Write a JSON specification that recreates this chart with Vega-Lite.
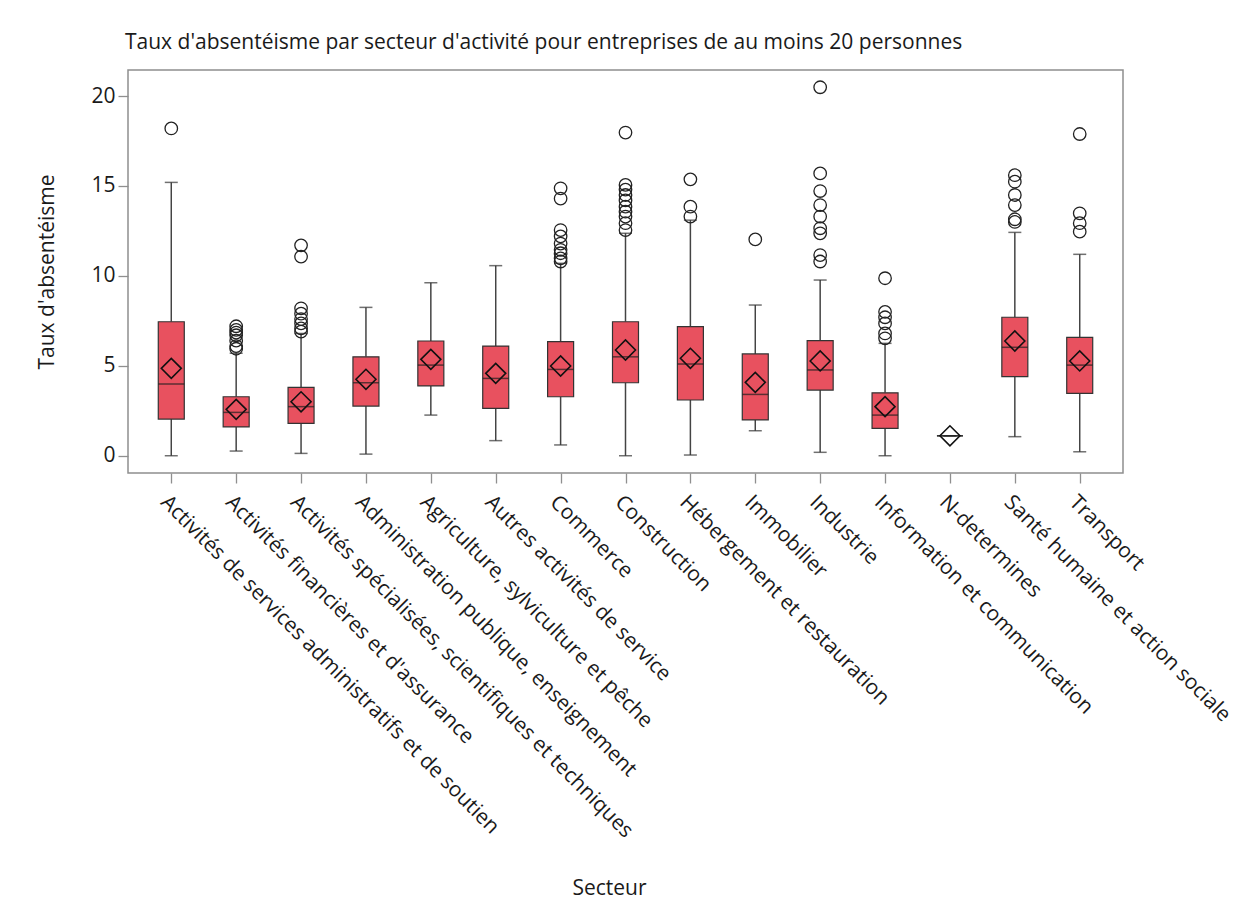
{
  "$schema": "https://vega.github.io/schema/vega-lite/v6.json",
  "width": 995,
  "height": 403,
  "autosize": {"type": "none"},
  "padding": {"left": 128, "top": 70, "right": 114, "bottom": 431},
  "background": "white",
  "config": {
    "font": "Open Sans",
    "view": {"stroke": "#8f8f8f", "strokeWidth": 1.5},
    "axis": {
      "domain": false,
      "grid": false,
      "tickColor": "#8f8f8f",
      "tickWidth": 1.3,
      "tickSize": 10,
      "labelColor": "#1a1a1a",
      "labelFont": "Open Sans",
      "labelFontSize": 21,
      "titleColor": "#1a1a1a",
      "titleFont": "Open Sans",
      "titleFontSize": 21,
      "titleFontWeight": "normal"
    }
  },
  "title": {
    "text": "Taux d'absentéisme par secteur d'activité pour entreprises de au moins 20 personnes",
    "anchor": "start",
    "frame": "group",
    "baseline": "alphabetic",
    "offset": 0,
    "dx": -3,
    "font": "Open Sans",
    "fontSize": 21,
    "fontWeight": "normal",
    "color": "#1a1a1a"
  },
  "datasets": {
    "boites": [
      {"secteur": "Activités de services administratifs et de soutien", "bas": 0.0, "q1": 2.04, "mediane": 3.99, "q3": 7.45, "haut": 15.2, "moyenne": 4.86},
      {"secteur": "Activités financières et d'assurance", "bas": 0.26, "q1": 1.6, "mediane": 2.41, "q3": 3.28, "haut": 5.7, "moyenne": 2.58},
      {"secteur": "Activités spécialisées, scientifiques et techniques", "bas": 0.13, "q1": 1.8, "mediane": 2.73, "q3": 3.8, "haut": 6.8, "moyenne": 3.0},
      {"secteur": "Administration publique, enseignement", "bas": 0.09, "q1": 2.76, "mediane": 4.06, "q3": 5.5, "haut": 8.25, "moyenne": 4.25},
      {"secteur": "Agriculture, sylviculture et pêche", "bas": 2.26, "q1": 3.88, "mediane": 5.04, "q3": 6.38, "haut": 9.62, "moyenne": 5.36},
      {"secteur": "Autres activités de service", "bas": 0.84, "q1": 2.63, "mediane": 4.3, "q3": 6.1, "haut": 10.57, "moyenne": 4.58},
      {"secteur": "Commerce", "bas": 0.6, "q1": 3.28, "mediane": 4.8, "q3": 6.34, "haut": 10.7, "moyenne": 4.99},
      {"secteur": "Construction", "bas": 0.0, "q1": 4.06, "mediane": 5.5, "q3": 7.45, "haut": 12.37, "moyenne": 5.88},
      {"secteur": "Hébergement et restauration", "bas": 0.04, "q1": 3.1, "mediane": 5.1, "q3": 7.18, "haut": 13.1, "moyenne": 5.42},
      {"secteur": "Immobilier", "bas": 1.39, "q1": 1.99, "mediane": 3.41, "q3": 5.66, "haut": 8.38, "moyenne": 4.08},
      {"secteur": "Industrie", "bas": 0.19, "q1": 3.65, "mediane": 4.77, "q3": 6.4, "haut": 9.77, "moyenne": 5.27},
      {"secteur": "Information et communication", "bas": 0.0, "q1": 1.52, "mediane": 2.26, "q3": 3.5, "haut": 6.25, "moyenne": 2.73},
      {"secteur": "N-determines", "bas": 1.11, "q1": 1.11, "mediane": 1.11, "q3": 1.11, "haut": 1.11, "moyenne": 1.11},
      {"secteur": "Santé humaine et action sociale", "bas": 1.06, "q1": 4.4, "mediane": 6.03, "q3": 7.7, "haut": 12.42, "moyenne": 6.38},
      {"secteur": "Transport", "bas": 0.22, "q1": 3.47, "mediane": 5.04, "q3": 6.58, "haut": 11.2, "moyenne": 5.27}
    ],
    "extremes": [
      {"secteur": "Activités de services administratifs et de soutien", "valeur": 18.2},
      {"secteur": "Activités financières et d'assurance", "valeur": 7.2},
      {"secteur": "Activités financières et d'assurance", "valeur": 7.0},
      {"secteur": "Activités financières et d'assurance", "valeur": 6.85},
      {"secteur": "Activités financières et d'assurance", "valeur": 6.7},
      {"secteur": "Activités financières et d'assurance", "valeur": 6.4},
      {"secteur": "Activités financières et d'assurance", "valeur": 6.1},
      {"secteur": "Activités financières et d'assurance", "valeur": 5.95},
      {"secteur": "Activités spécialisées, scientifiques et techniques", "valeur": 11.7},
      {"secteur": "Activités spécialisées, scientifiques et techniques", "valeur": 11.07},
      {"secteur": "Activités spécialisées, scientifiques et techniques", "valeur": 8.2},
      {"secteur": "Activités spécialisées, scientifiques et techniques", "valeur": 7.9},
      {"secteur": "Activités spécialisées, scientifiques et techniques", "valeur": 7.6},
      {"secteur": "Activités spécialisées, scientifiques et techniques", "valeur": 7.36},
      {"secteur": "Activités spécialisées, scientifiques et techniques", "valeur": 7.08},
      {"secteur": "Activités spécialisées, scientifiques et techniques", "valeur": 6.9},
      {"secteur": "Commerce", "valeur": 14.87},
      {"secteur": "Commerce", "valeur": 14.3},
      {"secteur": "Commerce", "valeur": 12.55},
      {"secteur": "Commerce", "valeur": 12.2},
      {"secteur": "Commerce", "valeur": 11.8},
      {"secteur": "Commerce", "valeur": 11.45},
      {"secteur": "Commerce", "valeur": 11.26},
      {"secteur": "Commerce", "valeur": 10.98},
      {"secteur": "Commerce", "valeur": 10.8},
      {"secteur": "Construction", "valeur": 17.97},
      {"secteur": "Construction", "valeur": 15.06},
      {"secteur": "Construction", "valeur": 14.8},
      {"secteur": "Construction", "valeur": 14.5},
      {"secteur": "Construction", "valeur": 14.2},
      {"secteur": "Construction", "valeur": 13.85},
      {"secteur": "Construction", "valeur": 13.57},
      {"secteur": "Construction", "valeur": 13.3},
      {"secteur": "Construction", "valeur": 12.93},
      {"secteur": "Construction", "valeur": 12.55},
      {"secteur": "Hébergement et restauration", "valeur": 15.37},
      {"secteur": "Hébergement et restauration", "valeur": 13.85},
      {"secteur": "Hébergement et restauration", "valeur": 13.3},
      {"secteur": "Immobilier", "valeur": 12.03},
      {"secteur": "Industrie", "valeur": 20.49},
      {"secteur": "Industrie", "valeur": 15.7},
      {"secteur": "Industrie", "valeur": 14.72},
      {"secteur": "Industrie", "valeur": 13.94},
      {"secteur": "Industrie", "valeur": 13.3},
      {"secteur": "Industrie", "valeur": 12.65},
      {"secteur": "Industrie", "valeur": 12.37},
      {"secteur": "Industrie", "valeur": 11.16},
      {"secteur": "Industrie", "valeur": 10.8},
      {"secteur": "Information et communication", "valeur": 9.87},
      {"secteur": "Information et communication", "valeur": 8.0},
      {"secteur": "Information et communication", "valeur": 7.7},
      {"secteur": "Information et communication", "valeur": 7.36},
      {"secteur": "Information et communication", "valeur": 6.8},
      {"secteur": "Information et communication", "valeur": 6.53},
      {"secteur": "Santé humaine et action sociale", "valeur": 15.6},
      {"secteur": "Santé humaine et action sociale", "valeur": 15.24},
      {"secteur": "Santé humaine et action sociale", "valeur": 14.5},
      {"secteur": "Santé humaine et action sociale", "valeur": 13.94},
      {"secteur": "Santé humaine et action sociale", "valeur": 13.15},
      {"secteur": "Santé humaine et action sociale", "valeur": 13.0},
      {"secteur": "Transport", "valeur": 17.89},
      {"secteur": "Transport", "valeur": 13.48},
      {"secteur": "Transport", "valeur": 12.93},
      {"secteur": "Transport", "valeur": 12.46}
    ]
  },
  "encoding": {
    "x": {
      "field": "secteur",
      "type": "nominal",
      "scale": {
        "type": "point",
        "padding": 0.667,
        "domain": [
          "Activités de services administratifs et de soutien",
          "Activités financières et d'assurance",
          "Activités spécialisées, scientifiques et techniques",
          "Administration publique, enseignement",
          "Agriculture, sylviculture et pêche",
          "Autres activités de service",
          "Commerce",
          "Construction",
          "Hébergement et restauration",
          "Immobilier",
          "Industrie",
          "Information et communication",
          "N-determines",
          "Santé humaine et action sociale",
          "Transport"
        ]
      },
      "axis": {
        "title": "Secteur",
        "labelAngle": 45,
        "labelAlign": "left",
        "labelBaseline": "top",
        "labelPadding": 8,
        "labelLimit": 800,
        "titleX": 481,
        "titleY": 421,
        "titleBaseline": "alphabetic",
        "titleAnchor": null
      }
    }
  },
  "layer": [
    {
      "data": {"name": "boites"},
      "mark": {"type": "rule", "color": "#444444", "strokeWidth": 1.5},
      "encoding": {
        "y": {
          "field": "bas",
          "type": "quantitative",
          "scale": {"domain": [-0.96, 21.45], "nice": false, "zero": false},
          "axis": {"title": "Taux d'absentéisme", "values": [0, 5, 10, 15, 20], "labelPadding": 3, "titlePadding": 33}
        },
        "y2": {"field": "q1"}
      }
    },
    {
      "data": {"name": "boites"},
      "mark": {"type": "rule", "color": "#444444", "strokeWidth": 1.5},
      "encoding": {
        "y": {"field": "q3", "type": "quantitative"},
        "y2": {"field": "haut"}
      }
    },
    {
      "data": {"name": "boites"},
      "mark": {"type": "tick", "color": "#333333", "size": 13, "thickness": 1.5},
      "encoding": {"y": {"field": "bas", "type": "quantitative"}}
    },
    {
      "data": {"name": "boites"},
      "mark": {"type": "tick", "color": "#333333", "size": 13, "thickness": 1.5},
      "encoding": {"y": {"field": "haut", "type": "quantitative"}}
    },
    {
      "data": {"name": "boites"},
      "mark": {"type": "bar", "size": 26, "fill": "#E8515F", "stroke": "#333333", "strokeWidth": 1.2},
      "encoding": {
        "y": {"field": "q1", "type": "quantitative"},
        "y2": {"field": "q3"}
      }
    },
    {
      "data": {"name": "boites"},
      "mark": {"type": "tick", "color": "#1f1f1f", "size": 26, "thickness": 1.5},
      "encoding": {"y": {"field": "mediane", "type": "quantitative"}}
    },
    {
      "data": {"name": "boites"},
      "mark": {"type": "point", "shape": "diamond", "size": 400, "filled": false, "stroke": "#111111", "strokeWidth": 1.6, "opacity": 1},
      "encoding": {"y": {"field": "moyenne", "type": "quantitative"}}
    },
    {
      "data": {"name": "extremes"},
      "mark": {"type": "point", "shape": "circle", "size": 156, "filled": false, "stroke": "#222222", "strokeWidth": 1.3, "opacity": 1},
      "encoding": {"y": {"field": "valeur", "type": "quantitative"}}
    }
  ]
}
